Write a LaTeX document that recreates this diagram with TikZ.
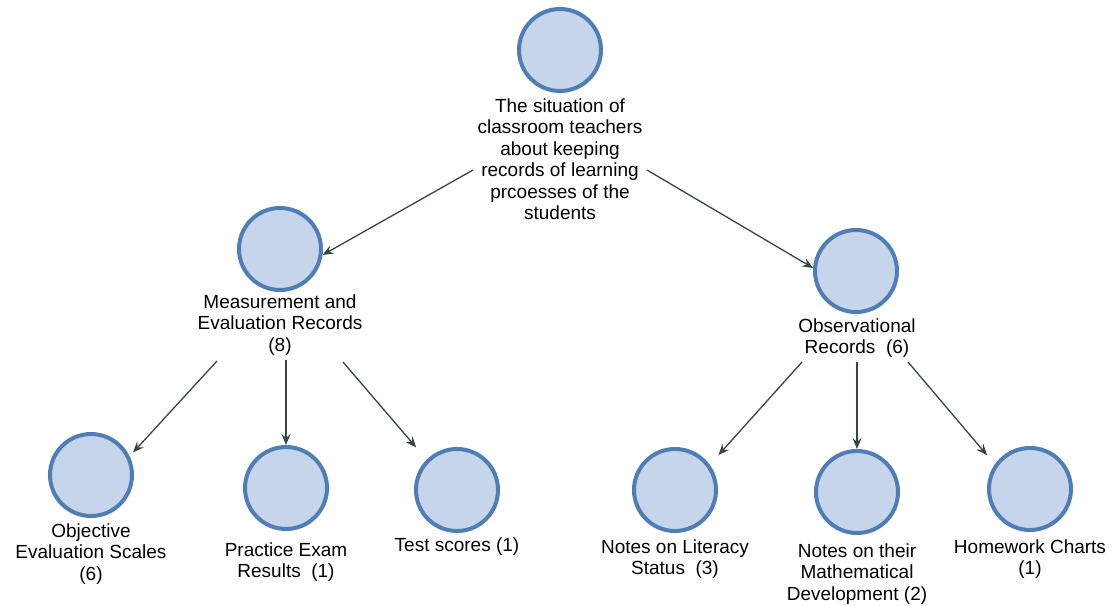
\documentclass[tikz,border=0pt]{standalone}
\usepackage{fontspec}
\setmainfont{Liberation Sans}
\usetikzlibrary{arrows.meta}
\definecolor{cfill}{RGB}{198,213,234}
\definecolor{cline}{RGB}{79,125,181}
\definecolor{carrow}{RGB}{52,72,62}
\begin{document}
\begin{tikzpicture}[x=1pt,y=-1pt,
  circ/.style={circle, draw=cline, fill=cfill, line width=4pt, minimum size=82pt, inner sep=0pt},
  lab/.style={align=center, font=\fontsize{19}{21.5}\selectfont, inner sep=0pt},
  arr/.style={draw=carrow, line width=1.3pt, -{Stealth[length=11pt,width=9pt,inset=4pt]}}]
\useasboundingbox (0,0) rectangle (1113,605);
% circles
\node[circ] (root) at (560,50) {};
\node[circ] (meas) at (280,249) {};
\node[circ] (obs)  at (856,271) {};
\node[circ] (obj)  at (91,475) {};
\node[circ] (prac) at (286,488) {};
\node[circ] (test) at (457,490) {};
\node[circ] (lit)  at (675,490) {};
\node[circ] (math) at (857,492) {};
\node[circ] (home) at (1030,489) {};
% labels
\node[lab] (rootl) at (560,159) {The situation of\\classroom teachers\\about keeping\\records of learning\\prcoesses of the\\students};
\node[lab] (measl) at (280,325) {Measurement and\\Evaluation Records\\(8)};
\node[lab] (obsl)  at (857,338) {Observational\\Records~ (6)};
\node[lab] (objl)  at (91,554) {Objective\\Evaluation Scales\\(6)};
\node[lab] (pracl) at (286,562) {Practice Exam\\Results~ (1)};
\node[lab] (testl) at (457,547) {Test scores (1)};
\node[lab] (litl)  at (675,559) {Notes on Literacy\\Status~ (3)};
\node[lab] (mathl) at (857,574) {Notes on their\\Mathematical\\Development (2)};
\node[lab] (homel) at (1030,559) {Homework Charts\\(1)};
% connector start points
\coordinate (s1) at (473,170);
\coordinate (s2) at (647,170);
\coordinate (s3) at (217,361);
\coordinate (s4) at (286,360);
\coordinate (s5) at (343,362);
\coordinate (s6) at (802,362);
\coordinate (s7) at (857,362);
\coordinate (s8) at (908,362);
% connectors
\draw[arr] (s1) -- (meas.-8);
\draw[arr] (s2) -- (obs.176);
\draw[arr, shorten >=5pt] (s3) -- (obj.26);
\draw[arr] (s4) -- (prac.north);
\draw[arr, shorten >=16pt] (s5) -- (test.135);
\draw[arr, shorten >=13pt] (s6) -- (lit.36);
\draw[arr] (s7) -- (math.north);
\draw[arr, shorten >=12pt] (s8) -- (home.145);
\end{tikzpicture}
\end{document}
